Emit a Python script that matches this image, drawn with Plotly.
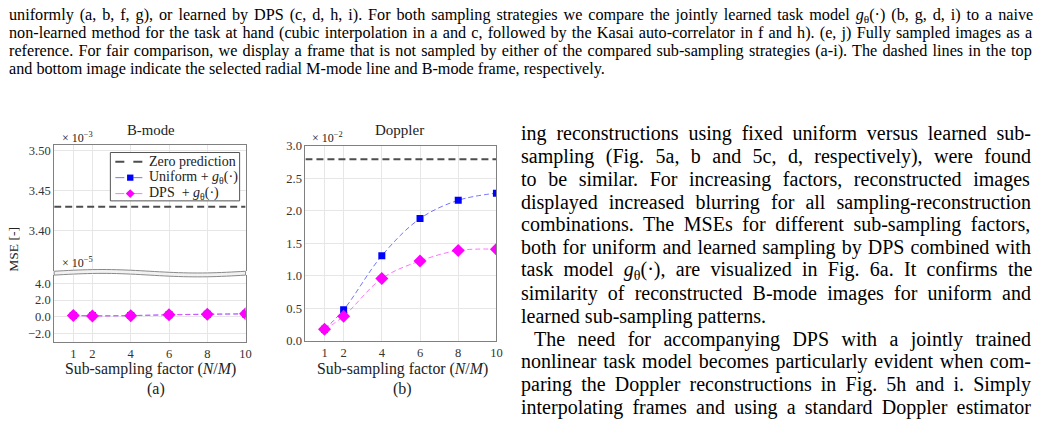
import re
import math
import plotly.graph_objects as go

# ---------------- data ----------------
factors = [1, 2, 4, 6, 8, 10]
x_range = [0, 10]

bmode_zero = 3.43                                   # x 1e-3
bmode_uniform = [0.15, 0.10, 0.13, 0.22, 0.28, 0.33]  # x 1e-5
bmode_dps = [0.15, 0.08, 0.12, 0.23, 0.30, 0.35]      # x 1e-5

doppler_zero = 2.79                                   # x 1e-2
doppler_uniform = [0.18, 0.48, 1.31, 1.88, 2.16, 2.27]
doppler_dps = [0.18, 0.38, 0.96, 1.23, 1.39, 1.41]

series_names = ["Zero prediction",
                "Uniform + <i>g</i><sub>θ</sub>(·)",
                "DPS  + <i>g</i><sub>θ</sub>(·)"]

bmode_upper_ticks = [3.40, 3.45, 3.50]
bmode_lower_ticks = [-2, 0, 2, 4]
doppler_ticks = [0, 0.5, 1.0, 1.5, 2.0, 2.5, 3.0]

caption_lines = [
    "uniformly (a, b, f, g), or learned by DPS (c, d, h, i). For both sampling strategies we compare the jointly learned task model <i>g</i><sub>θ</sub>(·) (b, g, d, i) to a naive",
    "non-learned method for the task at hand (cubic interpolation in a and c, followed by the Kasai auto-correlator in f and h). (e, j) Fully sampled images as a",
    "reference. For fair comparison, we display a frame that is not sampled by either of the compared sub-sampling strategies (a-i). The dashed lines in the top",
    "and bottom image indicate the selected radial M-mode line and B-mode frame, respectively.",
]
body_lines = [
    "ing reconstructions using fixed uniform versus learned sub-",
    "sampling (Fig. 5a, b and 5c, d, respectively), were found",
    "to be similar. For increasing factors, reconstructed images",
    "displayed increased blurring for all sampling-reconstruction",
    "combinations. The MSEs for different sub-sampling factors,",
    "both for uniform and learned sampling by DPS combined with",
    "task model <i>g</i><sub>θ</sub>(·), are visualized in Fig. 6a. It confirms the",
    "similarity of reconstructed B-mode images for uniform and",
    "learned sub-sampling patterns.",
    "The need for accompanying DPS with a jointly trained",
    "nonlinear task model becomes particularly evident when com-",
    "paring the Doppler reconstructions in Fig. 5h and i. Simply",
    "interpolating frames and using a standard Doppler estimator",
]

# ---------------- layout helpers ----------------
W, H = 1042, 423


def px(x):
    return x / W


def py(y):
    return 1 - y / H


SERIF = "Liberation Serif, Times New Roman, serif"
CHART_FONT = "Liberation Serif, serif"

# Times-Roman advance widths (1/1000 em) for justification
_TW = {' ': 250, '!': 333, '(': 333, ')': 333, ',': 250, '-': 333, '.': 250, '/': 278,
       ':': 278, ';': 278, '·': 250, 'θ': 500, '+': 564,
       'A': 722, 'B': 667, 'C': 667, 'D': 722, 'E': 611, 'F': 556, 'G': 722, 'H': 722,
       'I': 333, 'J': 389, 'K': 722, 'L': 611, 'M': 889, 'N': 722, 'O': 722, 'P': 556,
       'Q': 722, 'R': 667, 'S': 556, 'T': 611, 'U': 722, 'V': 722, 'W': 944, 'X': 722,
       'Y': 722, 'Z': 611,
       'a': 444, 'b': 500, 'c': 444, 'd': 500, 'e': 444, 'f': 333, 'g': 500, 'h': 500,
       'i': 278, 'j': 278, 'k': 500, 'l': 278, 'm': 778, 'n': 500, 'o': 500, 'p': 500,
       'q': 500, 'r': 333, 's': 389, 't': 278, 'u': 500, 'v': 500, 'w': 722, 'x': 500,
       'y': 500, 'z': 444}


def text_em(s):
    s = s.replace("<i>", "").replace("</i>", "")
    total = 0.0
    for part in re.split(r"(<sub>.*?</sub>)", s):
        if part.startswith("<sub>"):
            total += 0.7 * sum(_TW.get(c, 500) for c in part[5:-6])
        else:
            total += sum(_TW.get(c, 500) for c in part)
    return total / 1000.0


def justified(s, size, width):
    plain = re.sub(r"<[^>]+>", "", s)
    n = plain.count(" ")
    if n == 0:
        return s
    ws = (width - text_em(s) * size) / n
    return '<span style="word-spacing:%.2fpx;font-size:%.1fpx">%s</span>' % (ws, size, s)


# ---------------- figure ----------------
fig = go.Figure()

uni_line = "rgba(70,70,255,0.75)"
dps_line = "rgba(255,70,255,0.75)"
uni_mark = "#0000ff"
dps_mark = "#ff00ff"
zero_col = "#4d4d4d"
ZERO_DASH = "7px,4px"
SER_DASH = "5px,3px"

# B-mode (left): zero prediction on upper broken part, models on lower part
fig.add_trace(go.Scatter(x=x_range, y=[bmode_zero] * 2, mode="lines", name=series_names[0],
                         line=dict(color=zero_col, width=2, dash=ZERO_DASH),
                         xaxis="x", yaxis="y"))
fig.add_trace(go.Scatter(x=factors, y=bmode_uniform, mode="lines+markers", name=series_names[1],
                         line=dict(color=uni_line, width=1, dash=SER_DASH, shape="spline"),
                         marker=dict(symbol="square", size=7, color=uni_mark),
                         xaxis="x2", yaxis="y2"))
fig.add_trace(go.Scatter(x=factors, y=bmode_dps, mode="lines+markers", name=series_names[2],
                         line=dict(color=dps_line, width=1, dash=SER_DASH, shape="spline"),
                         marker=dict(symbol="diamond", size=10, color=dps_mark),
                         xaxis="x2", yaxis="y2"))

# Doppler (right)
fig.add_trace(go.Scatter(x=x_range, y=[doppler_zero] * 2, mode="lines", name=series_names[0],
                         line=dict(color=zero_col, width=2, dash=ZERO_DASH),
                         xaxis="x3", yaxis="y3"))
fig.add_trace(go.Scatter(x=factors, y=doppler_uniform, mode="lines+markers", name=series_names[1],
                         line=dict(color=uni_line, width=1, dash=SER_DASH, shape="spline"),
                         marker=dict(symbol="square", size=7, color=uni_mark),
                         xaxis="x3", yaxis="y3"))
fig.add_trace(go.Scatter(x=factors, y=doppler_dps, mode="lines+markers", name=series_names[2],
                         line=dict(color=dps_line, width=1, dash=SER_DASH, shape="spline"),
                         marker=dict(symbol="diamond", size=10, color=dps_mark),
                         xaxis="x3", yaxis="y3"))

LEFT_X = [px(54.5), px(247)]
RIGHT_X = [px(307.2), px(499.3)]
grid = "#e6e6e6"
frame = "#808080"
tickfont = dict(family=CHART_FONT, size=12.5, color="#333333")

common = dict(gridcolor=grid, linecolor=frame, linewidth=1, zeroline=False,
              showline=True, tickfont=tickfont, ticks="", ticklabelstandoff=0,
              fixedrange=True)

fig.update_layout(
    width=W, height=H,
    margin=dict(l=0, r=0, t=0, b=0),
    paper_bgcolor="white", plot_bgcolor="white",
    font=dict(family=CHART_FONT, color="#222222"),
    showlegend=False,
    xaxis=dict(domain=LEFT_X, range=x_range, tickvals=factors, showticklabels=False,
               side="top", anchor="y", mirror=False, **common),
    yaxis=dict(domain=[py(273.3), py(143)], range=[3.349, 3.507], tickvals=bmode_upper_ticks,
               tickformat=".2f", anchor="x", mirror=True, **common),
    xaxis2=dict(domain=LEFT_X, range=x_range, tickvals=factors, anchor="y2",
                mirror=False, **common),
    yaxis2=dict(domain=[py(346), py(277.3)], range=[-3, 5], tickvals=bmode_lower_ticks,
                tickformat=".1f", anchor="x2", mirror=True, **common),
    xaxis3=dict(domain=RIGHT_X, range=x_range, tickvals=factors, anchor="y3",
                mirror=True, **common),
    yaxis3=dict(domain=[py(345.5), py(143.3)], range=[0, 3.0], tickvals=doppler_ticks,
                tickformat=".1f", anchor="x3", mirror=True, **common),
)

shapes = []

# broken-axis wave band
x0, x1 = 54.5, 247.0
n = 40
up = []
lo = []
for i in range(n + 1):
    xx = x0 + (x1 - x0) * i / n
    yy = 273.3 - 1.8 * math.sin(2 * math.pi * (xx - x0) / (x1 - x0))
    up.append((px(xx), py(yy)))
    lo.append((px(xx), py(yy + 4.0)))
path = "M " + " L ".join("%.5f,%.5f" % p for p in up)
path += " L " + " L ".join("%.5f,%.5f" % p for p in reversed(lo)) + " Z"
shapes.append(dict(type="path", path=path, xref="paper", yref="paper",
                   fillcolor="#f2f2f2", line=dict(color="#8a8a8a", width=1), layer="above"))

# legend box (drawn manually to match compact spacing)
LG_L, LG_R, LG_T, LG_B = 111, 241, 150.5, 200.5
shapes.append(dict(type="rect", xref="paper", yref="paper",
                   x0=px(LG_L), x1=px(LG_R), y0=py(LG_B), y1=py(LG_T),
                   fillcolor="white", line=dict(color="#555555", width=1), layer="above"))
leg_y = [160, 176.5, 193]
leg_styles = [(zero_col, 2, "dash", None, None),
              (uni_line, 1, "dash", "square", uni_mark),
              (dps_line, 1, "dash", "diamond", dps_mark)]
SW_L, SW_R = 116, 146
for yy, (lc, lw, dash, sym, mc) in zip(leg_y, leg_styles):
    shapes.append(dict(type="line", xref="paper", yref="paper",
                       x0=px(SW_L), x1=px(SW_R), y0=py(yy), y1=py(yy),
                       line=dict(color=lc, width=lw, dash=dash), layer="above"))
    cx = (SW_L + SW_R) / 2
    if sym == "square":
        s = 3.2
        shapes.append(dict(type="rect", xref="paper", yref="paper",
                           x0=px(cx - s), x1=px(cx + s), y0=py(yy + s), y1=py(yy - s),
                           fillcolor=mc, line=dict(width=0), layer="above"))
    elif sym == "diamond":
        s = 4.5
        p = "M %.5f,%.5f L %.5f,%.5f L %.5f,%.5f L %.5f,%.5f Z" % (
            px(cx), py(yy - s), px(cx + s), py(yy), px(cx), py(yy + s), px(cx - s), py(yy))
        shapes.append(dict(type="path", path=p, xref="paper", yref="paper",
                           fillcolor=mc, line=dict(width=0), layer="above"))

fig.update_layout(shapes=shapes)

ann = []


def add_text(text, x, y, size, xanchor="center", color="#222222", family=CHART_FONT, angle=0):
    ann.append(dict(text=text, x=px(x), y=py(y), xref="paper", yref="paper",
                    xanchor=xanchor, yanchor="middle", showarrow=False, textangle=angle,
                    font=dict(family=family, size=size, color=color)))


for name, yy in zip(series_names, leg_y):
    add_text(name, 148, yy, 14, xanchor="left")

add_text("B-mode", 151.7, 127.5, 14.8)
add_text("Doppler", 401.7, 127.5, 15)
add_text("× 10<sup>−3</sup>", 60, 135, 12, xanchor="left")
add_text("× 10<sup>−2</sup>", 312, 135, 12, xanchor="left")
add_text("× 10<sup>−5</sup>", 60, 264, 12, xanchor="left")
add_text("MSE [-]", 14, 250, 13.5, angle=-90)
add_text("Sub-sampling factor (<i>N</i>/<i>M</i>)", 151.5, 374.5, 15.8)
add_text("Sub-sampling factor (<i>N</i>/<i>M</i>)", 404.5, 374.5, 15.8)
add_text("(a)", 156.5, 395.5, 16)
add_text("(b)", 404.5, 395.5, 16)

# caption (justified, last line ragged)
CAP_SIZE = 16.2
CAP_L, CAP_R = 7, 1031
cap_y = [8.5, 27, 45.5, 64]
for i, (line, yy) in enumerate(zip(caption_lines, cap_y)):
    txt = justified(line, CAP_SIZE, CAP_R - CAP_L) if i < len(caption_lines) - 1 else line
    add_text(txt, CAP_L, yy, CAP_SIZE, xanchor="left", color="#000000", family=SERIF)

# body column
BODY_SIZE = 20
BODY_L, BODY_R = 522, 1032
INDENT = 13
body_y = [131 + 23.6 * k for k in range(len(body_lines))]
ragged = {8}
for i, (line, yy) in enumerate(zip(body_lines, body_y)):
    left = BODY_L + (INDENT if i == 9 else 0)
    txt = line if i in ragged else justified(line, BODY_SIZE, BODY_R - left)
    add_text(txt, left, yy, BODY_SIZE, xanchor="left", color="#000000", family=SERIF)

fig.update_layout(annotations=ann)

fig.write_html("out.html",
               config={"displayModeBar": False},
               post_script="document.body.style.margin='0px';document.body.style.overflow='hidden';")
